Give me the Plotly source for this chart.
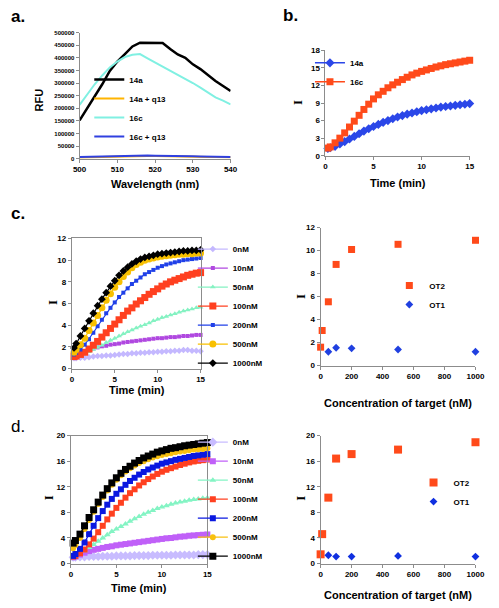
import plotly.graph_objects as go

# ---------------- data ----------------
WAVELENGTH = [500, 502, 504, 506, 508, 510, 512, 514, 516, 518, 520,
              522, 524, 526, 528, 530, 532, 534, 536, 538, 540]
A_14A = [152000, 198000, 245000, 295000, 348000, 385000, 415000, 445000, 460000, 460000, 460000,
         459000, 435000, 413000, 400000, 374000, 355000, 330000, 308000, 288000, 268000]
A_14A_Q13 = [5000, 6000, 7000, 8000, 9000, 10000, 10000, 11000, 12000, 11000, 11000,
             10000, 10000, 10000, 9000, 9000, 8000, 7000, 7000, 6000, 6000]
A_16C = [213000, 255000, 295000, 330000, 362000, 385000, 403000, 412000, 415000, 398000, 382000,
         365000, 350000, 333000, 316000, 300000, 282000, 264000, 243000, 230000, 215000]
A_16C_Q13 = [7000, 8000, 9000, 10000, 11000, 12000, 12000, 13000, 14000, 13000, 12000,
             12000, 12000, 12000, 11000, 10000, 9000, 9000, 8000, 7000, 7000]

TIME_MIN = [0.25, 0.5, 1.0, 1.5, 2.0, 2.5, 3.0, 3.5, 4.0, 4.5, 5.0, 5.5, 6.0, 6.5, 7.0, 7.5,
            8.0, 8.5, 9.0, 9.5, 10.0, 10.5, 11.0, 11.5, 12.0, 12.5, 13.0, 13.5, 14.0, 14.5, 15.0]

B_14A = [1.25, 1.35, 1.6, 2.0, 2.4, 2.85, 3.3, 3.75, 4.2, 4.6, 5.0, 5.35, 5.7, 6.0, 6.3, 6.6,
         6.85, 7.1, 7.3, 7.5, 7.7, 7.85, 8.0, 8.15, 8.3, 8.4, 8.5, 8.6, 8.7, 8.8, 8.9]
B_16C = [1.3, 1.5, 2.2, 3.0, 3.9, 4.9, 5.9, 6.9, 7.9, 8.8, 9.7, 10.4, 11.0, 11.6, 12.1, 12.55,
         13.0, 13.4, 13.8, 14.1, 14.4, 14.65, 14.9, 15.15, 15.35, 15.55, 15.7, 15.85, 16.0, 16.15, 16.3]

CONC_LABELS = ["0nM", "10nM", "50nM", "100nM", "200nM", "500nM", "1000nM"]

C_0 = [0.95, 0.95, 1.0, 1.0, 1.05, 1.1, 1.15, 1.15, 1.2, 1.2, 1.25, 1.3, 1.35, 1.35, 1.4, 1.4,
       1.45, 1.45, 1.5, 1.5, 1.55, 1.55, 1.6, 1.6, 1.65, 1.65, 1.7, 1.7, 1.65, 1.65, 1.6]
C_10 = [1.1, 1.2, 1.4, 1.55, 1.7, 1.85, 1.95, 2.05, 2.1, 2.2, 2.25, 2.3, 2.4, 2.45, 2.5, 2.55,
        2.6, 2.65, 2.7, 2.75, 2.8, 2.8, 2.85, 2.9, 2.9, 2.95, 3.0, 3.0, 3.05, 3.1, 3.1]
C_50 = [1.1, 1.15, 1.25, 1.4, 1.55, 1.75, 1.95, 2.15, 2.4, 2.6, 2.8, 3.0, 3.2, 3.4, 3.55, 3.75,
        3.9, 4.05, 4.2, 4.4, 4.55, 4.7, 4.8, 4.95, 5.05, 5.2, 5.3, 5.4, 5.5, 5.6, 5.65]
C_100 = [1.1, 1.15, 1.3, 1.5, 1.8, 2.15, 2.5, 2.9, 3.3, 3.7, 4.1, 4.5, 4.9, 5.3, 5.6, 5.95,
         6.25, 6.55, 6.85, 7.1, 7.35, 7.6, 7.8, 8.0, 8.15, 8.3, 8.45, 8.6, 8.7, 8.8, 8.85]
C_200 = [1.3, 1.45, 1.75, 2.2, 2.7, 3.3, 3.9, 4.5, 5.1, 5.6, 6.1, 6.6, 7.0, 7.4, 7.8, 8.1,
         8.4, 8.7, 8.9, 9.1, 9.3, 9.45, 9.6, 9.7, 9.8, 9.9, 10.0, 10.05, 10.1, 10.15, 10.2]
C_500 = [1.5, 1.75, 2.2, 2.8, 3.5, 4.2, 4.9, 5.6, 6.3, 6.9, 7.5, 8.0, 8.5, 8.9, 9.3, 9.6,
         9.8, 10.0, 10.1, 10.2, 10.3, 10.35, 10.4, 10.45, 10.5, 10.55, 10.55, 10.6, 10.6, 10.65, 10.65]
C_1000 = [1.9, 2.3, 3.0, 3.7, 4.4, 5.1, 5.8, 6.4, 7.0, 7.6, 8.1, 8.6, 9.0, 9.35, 9.65, 9.9,
          10.1, 10.25, 10.35, 10.45, 10.55, 10.6, 10.65, 10.7, 10.75, 10.8, 10.85, 10.85, 10.9, 10.9, 10.95]

D_0 = [1.0, 1.0, 1.05, 1.05, 1.1, 1.1, 1.1, 1.15, 1.15, 1.15, 1.2, 1.2, 1.2, 1.2, 1.25, 1.25,
       1.25, 1.25, 1.3, 1.3, 1.3, 1.3, 1.3, 1.35, 1.35, 1.35, 1.35, 1.35, 1.4, 1.4, 1.4]
D_10 = [1.0, 1.1, 1.4, 1.7, 1.95, 2.15, 2.3, 2.45, 2.6, 2.7, 2.85, 2.95, 3.05, 3.15, 3.25, 3.35,
        3.45, 3.55, 3.65, 3.75, 3.85, 3.95, 4.0, 4.1, 4.2, 4.25, 4.35, 4.4, 4.45, 4.5, 4.55]
D_50 = [1.0, 1.1, 1.5, 2.0, 2.5, 3.0, 3.5, 4.0, 4.5, 5.0, 5.4, 5.8, 6.2, 6.6, 7.0, 7.35,
        7.7, 8.0, 8.3, 8.6, 8.85, 9.05, 9.25, 9.45, 9.6, 9.75, 9.9, 10.0, 10.1, 10.2, 10.25]
D_100 = [1.1, 1.2, 1.6, 2.2, 3.0, 3.9, 4.9, 5.9, 6.9, 7.8, 8.7, 9.5, 10.3, 11.0, 11.6, 12.2,
         12.7, 13.2, 13.6, 14.0, 14.35, 14.65, 14.9, 15.15, 15.4, 15.6, 15.8, 15.95, 16.05, 16.15, 16.25]
D_200 = [1.2, 1.5, 2.3, 3.3, 4.6, 5.9, 7.1, 8.2, 9.2, 10.1, 10.9, 11.6, 12.3, 12.9, 13.4, 13.9,
         14.3, 14.7, 15.0, 15.3, 15.6, 15.8, 16.0, 16.2, 16.35, 16.5, 16.65, 16.8, 16.9, 17.0, 17.1]
D_500 = [2.4, 2.9, 4.0, 5.4, 6.8, 8.1, 9.3, 10.4, 11.4, 12.3, 13.1, 13.8, 14.4, 14.9, 15.3, 15.7,
         16.0, 16.3, 16.55, 16.75, 16.95, 17.1, 17.25, 17.4, 17.5, 17.6, 17.7, 17.8, 17.85, 17.9, 18.0]
D_1000 = [3.2, 3.6, 4.6, 5.9, 7.2, 8.4, 9.6, 10.7, 11.7, 12.6, 13.4, 14.1, 14.7, 15.2, 15.7, 16.1,
          16.5, 16.8, 17.1, 17.4, 17.6, 17.8, 18.0, 18.1, 18.25, 18.4, 18.5, 18.6, 18.7, 18.8, 18.9]

CONC_OT2 = [0, 10, 50, 100, 200, 500, 1000]
CONC_OT1 = [50, 100, 200, 500, 1000]
C_OT2 = [1.6, 3.05, 5.55, 8.8, 10.1, 10.55, 10.9]
C_OT1 = [1.2, 1.55, 1.5, 1.4, 1.2]
D_OT2 = [1.45, 4.6, 10.3, 16.4, 17.1, 17.8, 18.95]
D_OT1 = [1.3, 1.1, 1.1, 1.2, 1.1]

# ---------------- layout helpers ----------------
W, H = 499, 608
FONT = "Liberation Sans, Arial, sans-serif"
SERIF = "Liberation Serif, Times New Roman, serif"


def fx(p):
    return p / W


def fy(p):
    return 1 - p / H


fig = go.Figure()


def line_trace(x, y, name, color, ax, legend, symbol="circle", size=6, lw=1.5, mode="lines+markers"):
    fig.add_trace(go.Scatter(
        x=x, y=y, name=name, mode=mode,
        line=dict(color=color, width=lw),
        marker=dict(symbol=symbol, size=size, color=color, line=dict(width=0)),
        xaxis="x" + ax, yaxis="y" + ax, legend=legend, cliponaxis=False,
    ))


# panel a
for name, vals, col, w in [("14a", A_14A, "#000000", 2.5), ("14a + q13", A_14A_Q13, "#FFB400", 2),
                           ("16c", A_16C, "#80F0E2", 2), ("16c + q13", A_16C_Q13, "#3040E0", 2)]:
    line_trace(WAVELENGTH, vals, name, col, "", "legend", lw=w, mode="lines")

# panel b
line_trace(TIME_MIN, B_14A, "14a", "#2B47E8", "2", "legend2", symbol="diamond", size=7, lw=1.5)
line_trace(TIME_MIN, B_16C, "16c", "#FF4A1A", "2", "legend2", symbol="square", size=7, lw=1.5)

# panel c (left)
c_series = [C_0, C_10, C_50, C_100, C_200, C_500, C_1000]
c_style = [("#C4B8FF", "diamond", 5), ("#B048E0", "square", 4), ("#84F2C2", "triangle-up", 5),
           ("#FF4020", "square", 7), ("#2040E8", "square", 4), ("#F8C000", "circle", 7),
           ("#000000", "diamond", 6)]
for lab, vals, (col, sym, sz) in zip(CONC_LABELS, c_series, c_style):
    line_trace(TIME_MIN, vals, lab, col, "3", "legend3", symbol=sym, size=sz, lw=1.2)

# panel c (right)
line_trace(CONC_OT2, C_OT2, "OT2", "#FF4A1A", "4", "legend4", symbol="square", size=7, mode="markers")
line_trace(CONC_OT1, C_OT1, "OT1", "#2040E0", "4", "legend4", symbol="diamond", size=6, mode="markers")

# panel d (left)
d_series = [D_0, D_10, D_50, D_100, D_200, D_500, D_1000]
d_style = [("#C8BCFF", "diamond", 7), ("#C060F8", "square", 6), ("#84F4C4", "triangle-up", 6),
           ("#FF4020", "square", 6), ("#0A18E0", "square", 6), ("#F8C010", "circle", 6),
           ("#000000", "square", 7)]
for lab, vals, (col, sym, sz) in zip(CONC_LABELS, d_series, d_style):
    line_trace(TIME_MIN, vals, lab, col, "5", "legend5", symbol=sym, size=sz, lw=1.2)

# panel d (right)
line_trace(CONC_OT2, D_OT2, "OT2", "#FF4A1A", "6", "legend6", symbol="square", size=8, mode="markers")
line_trace(CONC_OT1, D_OT1, "OT1", "#1030E0", "6", "legend6", symbol="diamond", size=6, mode="markers")


def axis(domain, rng, dtick, box=False, anchor=None, ticksize=8, tickformat=None):
    d = dict(domain=domain, range=rng, dtick=dtick, tick0=rng[0],
             showline=True, linecolor="#8c8c8c", linewidth=1, mirror=box,
             ticks="outside", ticklen=3, tickcolor="#8c8c8c",
             showgrid=False, zeroline=False, fixedrange=True,
             tickfont=dict(family=FONT, size=ticksize, color="#000", weight="bold"))
    if anchor:
        d["anchor"] = anchor
    if tickformat:
        d["tickformat"] = tickformat
    return d


fig.update_layout(
    width=W, height=H, margin=dict(l=0, r=0, t=0, b=0),
    paper_bgcolor="white", plot_bgcolor="white",
    font=dict(family=FONT, color="#000"),
    xaxis=axis([fx(75), fx(231)], [500, 540], 10, anchor="y"),
    yaxis=axis([fy(157), fy(29)], [0, 500000], 50000, anchor="x", ticksize=6, tickformat="d"),
    xaxis2=axis([fx(329), fx(478)], [0, 15], 5, anchor="y2"),
    yaxis2=axis([fy(154), fy(47)], [0, 18], 3, anchor="x2"),
    xaxis3=axis([fx(67), fx(200)], [0, 15], 5, box=True, anchor="y3"),
    yaxis3=axis([fy(370), fy(238)], [0, 12], 2, box=True, anchor="x3"),
    xaxis4=axis([fx(324), fx(484)], [0, 1000], 200, anchor="y4"),
    yaxis4=axis([fy(367), fy(227)], [0, 12], 2, anchor="x4"),
    xaxis5=axis([fx(66), fx(207)], [0, 15], 5, box=True, anchor="y5"),
    yaxis5=axis([fy(568), fy(438)], [0, 20], 4, box=True, anchor="x5"),
    xaxis6=axis([fx(324), fx(484)], [0, 1000], 200, anchor="y6"),
    yaxis6=axis([fy(568), fy(438)], [0, 20], 4, anchor="x6"),
)

leg_font = dict(family=FONT, size=8, color="#000", weight="bold")
legend_pos = {
    "legend": (85, 62),
    "legend2": (313, 45),
    "legend3": (192, 234),
    "legend4": (395, 271),
    "legend5": (192, 430),
    "legend6": (420, 471),
}
for key, (lx, ly) in legend_pos.items():
    fig.update_layout({key: dict(x=fx(lx), y=fy(ly), xanchor="left", yanchor="top",
                                 bgcolor="rgba(0,0,0,0)", borderwidth=0, font=leg_font,
                                 tracegroupgap=0)})

# axis titles
AXIS_TITLES = [
    ("RFU", 33, 97, -90, False), ("Wavelength (nm)", 153, 183, 0, False),
    ("I", 300, 100, -90, True), ("Time (min)", 403.5, 182, 0, False),
    ("I", 47, 303, -90, True), ("Time (min)", 134, 392, 0, False),
    ("I", 303, 297, -90, True), ("Concentration of target (nM)", 404, 405, 0, False),
    ("I", 43, 501, -90, True), ("Time (min)", 136.5, 593, 0, False),
    ("I", 303, 502, -90, True), ("Concentration of target (nM)", 404, 600, 0, False),
]
for txt, x, y, ang, serif in AXIS_TITLES:
    fig.add_annotation(text=txt, x=fx(x), y=fy(y), xref="paper", yref="paper",
                       xanchor="center", yanchor="middle", textangle=ang, showarrow=False,
                       font=dict(family=SERIF if serif else FONT, size=13 if serif else 11,
                                 color="#000", weight="bold"))

# panel letters
for txt, x, y, bold in [("a.", 2, 13, True), ("b.", 283, 12, True), ("c.", 2, 213, True), ("d.", 2, 429, False)]:
    fig.add_annotation(text=txt, x=fx(x), y=fy(y), xref="paper", yref="paper",
                       xanchor="left", yanchor="middle", showarrow=False,
                       font=dict(family=FONT, size=17, color="#000", weight="bold" if bold else "normal"))

fig.write_html("out.html", config={"displayModeBar": False},
               post_script="document.body.style.margin='0px';")
